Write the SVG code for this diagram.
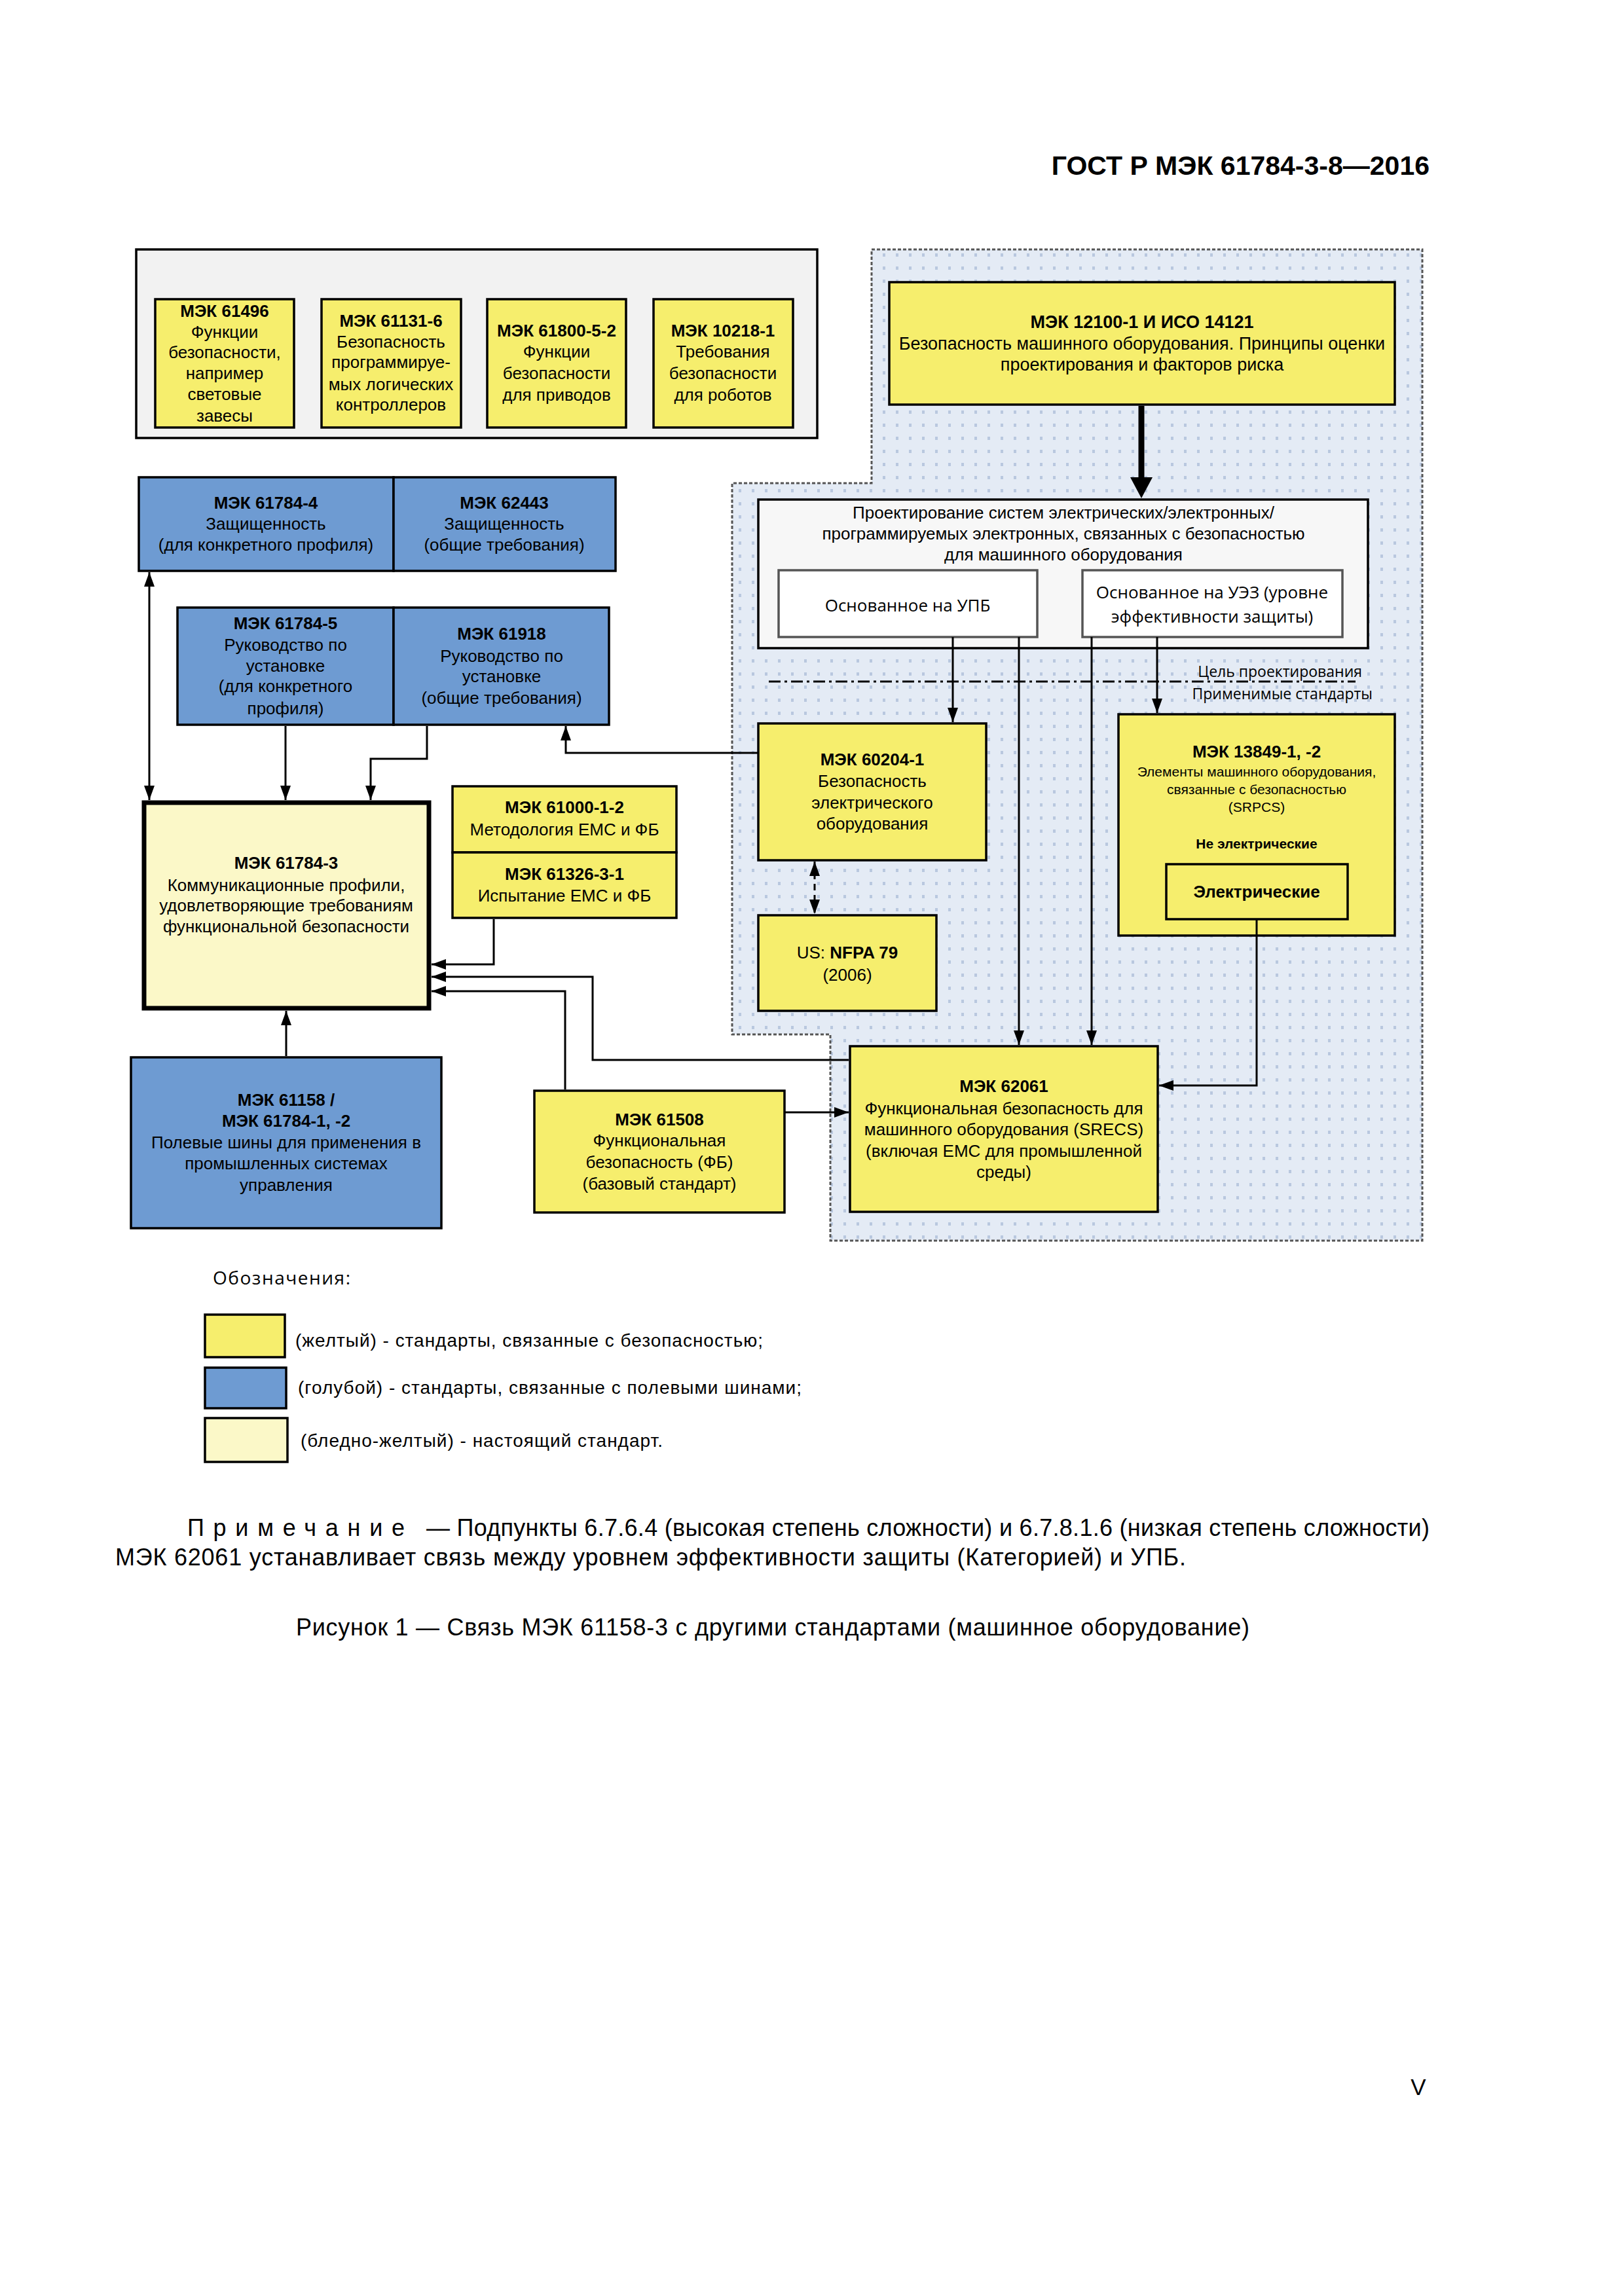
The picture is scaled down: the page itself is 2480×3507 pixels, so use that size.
<svg xmlns="http://www.w3.org/2000/svg" width="2480" height="3507" viewBox="0 0 2480 3507">
<style>
.t{font-family:"Liberation Sans",Arial,sans-serif;font-size:26px;text-anchor:middle;fill:#000}
.b{font-weight:bold}
.s{font-size:21px}
.o{font-family:"Open Sans","DejaVu Sans",sans-serif}
.l{text-anchor:start}
.e{text-anchor:end}
.y{fill:#f6ee6d;stroke:#000;stroke-width:3.5}
.bl{fill:#6e9bd2;stroke:#000;stroke-width:3.5}
.c{fill:none;stroke:#000;stroke-width:3}
</style>
<defs>
<pattern id="dots" width="20" height="20" patternUnits="userSpaceOnUse">
<rect width="20" height="20" fill="#e4ebf5"/>
<rect x="8" y="7" width="4" height="5" fill="#b9c8df"/>
</pattern>
<marker id="a" markerUnits="userSpaceOnUse" markerWidth="22" markerHeight="16" refX="22" refY="8" orient="auto-start-reverse">
<path d="M0,0 L22,8 L0,16 z" fill="#000"/>
</marker>
</defs>
<rect width="2480" height="3507" fill="#fff"/>

<text class="t b e" x="2183" y="267" style="font-size:41px">ГОСТ Р МЭК 61784-3-8—2016</text>

<g id="region">
<path d="M1331,381 H2172 V1895 H1268 V1580 H1118 V738 H1331 Z" fill="url(#dots)" stroke="#555" stroke-width="3" stroke-dasharray="5 3"/>
</g>

<g id="group-top">
<rect x="208" y="381" width="1040" height="288" fill="#f2f2f2" stroke="#000" stroke-width="3.5"/>
</g>
<g id="n61496">
<rect class="y" x="237" y="457" width="212" height="196"/>
<text class="t b" x="343" y="484">МЭК 61496</text>
<text class="t" x="343" y="516">Функции</text>
<text class="t" x="343" y="547">безопасности,</text>
<text class="t" x="343" y="579">например</text>
<text class="t" x="343" y="611">световые</text>
<text class="t" x="343" y="644">завесы</text>
</g>
<g id="n61131">
<rect class="y" x="491" y="457" width="213" height="196"/>
<text class="t b" x="597" y="499">МЭК 61131-6</text>
<text class="t" x="597" y="531">Безопасность</text>
<text class="t" x="597" y="562">программируе-</text>
<text class="t" x="597" y="596">мых логических</text>
<text class="t" x="597" y="627">контроллеров</text>
</g>
<g id="n61800">
<rect class="y" x="744" y="457" width="212" height="196"/>
<text class="t b" x="850" y="514">МЭК 61800-5-2</text>
<text class="t" x="850" y="546">Функции</text>
<text class="t" x="850" y="579">безопасности</text>
<text class="t" x="850" y="612">для приводов</text>
</g>
<g id="n10218">
<rect class="y" x="998" y="457" width="213" height="196"/>
<text class="t b" x="1104" y="514">МЭК 10218-1</text>
<text class="t" x="1104" y="546">Требования</text>
<text class="t" x="1104" y="579">безопасности</text>
<text class="t" x="1104" y="612">для роботов</text>
</g>

<g id="n12100">
<rect class="y" x="1358" y="431" width="772" height="187"/>
<text class="t b" x="1744" y="501" style="font-size:27px">МЭК 12100-1 И ИСО 14121</text>
<text class="t" x="1744" y="534" style="font-size:27px">Безопасность машинного оборудования. Принципы оценки</text>
<text class="t" x="1744" y="566" style="font-size:27px">проектирования и факторов риска</text>
</g>

<g id="design">
<rect x="1158" y="763" width="931" height="227" fill="#f7f7f7" stroke="#000" stroke-width="3.5"/>
<text class="t" x="1624" y="792">Проектирование систем электрических/электронных/</text>
<text class="t" x="1624" y="824">программируемых электронных, связанных с безопасностью</text>
<text class="t" x="1624" y="856">для машинного оборудования</text>
</g>
<g id="upb">
<rect x="1189" y="871" width="395" height="102" fill="#fff" stroke="#555" stroke-width="3.5"/>
<text class="t o" x="1386" y="934">Основанное на УПБ</text>
</g>
<g id="uez">
<rect x="1653" y="871" width="397" height="102" fill="#fff" stroke="#555" stroke-width="3.5"/>
<text class="t o" x="1851" y="914">Основанное на УЭЗ (уровне</text>
<text class="t o" x="1851" y="951">эффективности защиты)</text>
</g>
<g id="divider">
<line x1="1174" y1="1041" x2="2070" y2="1041" stroke="#000" stroke-width="3" stroke-dasharray="18 6 4 6"/>
<text class="t o e" x="2080" y="1034" style="font-size:23px">Цель проектирования</text>
<text class="t o e" x="2096" y="1068" style="font-size:23px">Применимые стандарты</text>
</g>

<g id="n61784-4">
<rect class="bl" x="212" y="729" width="389" height="143"/>
<text class="t b" x="406" y="777">МЭК 61784-4</text>
<text class="t" x="406" y="809">Защищенность</text>
<text class="t" x="406" y="841">(для конкретного профиля)</text>
</g>
<g id="n62443">
<rect class="bl" x="601" y="729" width="339" height="143"/>
<text class="t b" x="770" y="777">МЭК 62443</text>
<text class="t" x="770" y="809">Защищенность</text>
<text class="t" x="770" y="841">(общие требования)</text>
</g>
<g id="n61784-5">
<rect class="bl" x="271" y="928" width="330" height="179"/>
<text class="t b" x="436" y="961">МЭК 61784-5</text>
<text class="t" x="436" y="994">Руководство по</text>
<text class="t" x="436" y="1026">установке</text>
<text class="t" x="436" y="1057">(для конкретного</text>
<text class="t" x="436" y="1091">профиля)</text>
</g>
<g id="n61918">
<rect class="bl" x="601" y="928" width="329" height="179"/>
<text class="t b" x="766" y="977">МЭК 61918</text>
<text class="t" x="766" y="1011">Руководство по</text>
<text class="t" x="766" y="1042">установке</text>
<text class="t" x="766" y="1075">(общие требования)</text>
</g>

<g id="n61784-3">
<rect x="220" y="1226" width="435" height="314" fill="#fbf8c8" stroke="#000" stroke-width="7"/>
<text class="t b" x="437" y="1327">МЭК 61784-3</text>
<text class="t" x="437" y="1361">Коммуникационные профили,</text>
<text class="t" x="437" y="1392">удовлетворяющие требованиям</text>
<text class="t" x="437" y="1424">функциональной безопасности</text>
</g>
<g id="n61000">
<rect class="y" x="691" y="1201" width="342" height="101"/>
<text class="t b" x="862" y="1242">МЭК 61000-1-2</text>
<text class="t" x="862" y="1276">Методология ЕМС и ФБ</text>
</g>
<g id="n61326">
<rect class="y" x="691" y="1302" width="342" height="100"/>
<text class="t b" x="862" y="1344">МЭК 61326-3-1</text>
<text class="t" x="862" y="1377">Испытание ЕМС и ФБ</text>
</g>

<g id="n60204">
<rect class="y" x="1158" y="1105" width="348" height="209"/>
<text class="t b" x="1332" y="1169">МЭК 60204-1</text>
<text class="t" x="1332" y="1202">Безопасность</text>
<text class="t" x="1332" y="1235">электрического</text>
<text class="t" x="1332" y="1267">оборудования</text>
</g>
<g id="nNFPA">
<rect class="y" x="1158" y="1398" width="272" height="146"/>
<text class="t" x="1294" y="1464">US: <tspan class="b">NFPA 79</tspan></text>
<text class="t" x="1294" y="1498">(2006)</text>
</g>
<g id="n13849">
<rect class="y" x="1708" y="1091" width="422" height="338"/>
<text class="t b" x="1919" y="1157">МЭК 13849-1, -2</text>
<text class="t s" x="1919" y="1186">Элементы машинного оборудования,</text>
<text class="t s" x="1919" y="1213">связанные с безопасностью</text>
<text class="t s" x="1919" y="1240">(SRPCS)</text>
<text class="t s b" x="1919" y="1296">Не электрические</text>
</g>
<g id="nElec">
<rect class="y" x="1781" y="1320" width="277" height="84"/>
<text class="t b" x="1919" y="1371">Электрические</text>
</g>
<g id="n62061">
<rect class="y" x="1298" y="1598" width="470" height="253"/>
<text class="t b" x="1533" y="1668">МЭК 62061</text>
<text class="t" x="1533" y="1702">Функциональная безопасность для</text>
<text class="t" x="1533" y="1734">машинного оборудования (SRECS)</text>
<text class="t" x="1533" y="1767">(включая ЕМС для промышленной</text>
<text class="t" x="1533" y="1799">среды)</text>
</g>
<g id="n61508">
<rect class="y" x="816" y="1666" width="382" height="186"/>
<text class="t b" x="1007" y="1719">МЭК 61508</text>
<text class="t" x="1007" y="1751">Функциональная</text>
<text class="t" x="1007" y="1784">безопасность (ФБ)</text>
<text class="t" x="1007" y="1817">(базовый стандарт)</text>
</g>
<g id="n61158">
<rect class="bl" x="200" y="1615" width="474" height="261"/>
<text class="t b" x="437" y="1689">МЭК 61158 /</text>
<text class="t b" x="437" y="1721">МЭК 61784-1, -2</text>
<text class="t" x="437" y="1754">Полевые шины для применения в</text>
<text class="t" x="437" y="1786">промышленных системах</text>
<text class="t" x="437" y="1819">управления</text>
</g>

<g id="connectors">
<path class="c" d="M228,874 V1222" marker-start="url(#a)" marker-end="url(#a)"/>
<path class="c" d="M436,1109 V1222" marker-end="url(#a)"/>
<path class="c" d="M652,1109 V1159 H566 V1222" marker-end="url(#a)"/>
<path class="c" d="M1158,1150 H864 V1109" marker-end="url(#a)"/>
<path class="c" d="M754,1404 V1473 H659" marker-end="url(#a)"/>
<path class="c" d="M1296,1619 H905 V1492 H659" marker-end="url(#a)"/>
<path class="c" d="M863,1664 V1514 H659" marker-end="url(#a)"/>
<path class="c" d="M437,1613 V1544" marker-end="url(#a)"/>
<path class="c" d="M1198,1699 H1296" marker-end="url(#a)"/>
<path class="c" d="M1455,973 V1103" marker-end="url(#a)"/>
<path class="c" d="M1556,973 V1596" marker-end="url(#a)"/>
<path class="c" d="M1667,973 V1596" marker-end="url(#a)"/>
<path class="c" d="M1767,973 V1089" marker-end="url(#a)"/>
<path class="c" d="M1919,1404 V1658 H1770" marker-end="url(#a)"/>
<path class="c" d="M1244,1316 V1396" stroke-dasharray="10 7" marker-start="url(#a)" marker-end="url(#a)"/>
<path d="M1743,620 V732" fill="none" stroke="#000" stroke-width="9"/>
<path d="M1726,729 L1760,729 L1743,761 Z" fill="#000"/>
</g>

<g id="legend">
<text class="t o l" x="325" y="1962" style="font-size:28px" textLength="210">Обозначения:</text>
<rect x="313" y="2008" width="122" height="65" fill="#f6ee6d" stroke="#000" stroke-width="3.5"/>
<rect x="313" y="2089" width="124" height="62" fill="#6e9bd2" stroke="#000" stroke-width="3.5"/>
<rect x="313" y="2166" width="126" height="67" fill="#fbf8c8" stroke="#000" stroke-width="3.5"/>
<text class="t l" x="451" y="2057" style="font-size:28px" textLength="714">(желтый) - стандарты, связанные с безопасностью;</text>
<text class="t l" x="455" y="2129" style="font-size:28px" textLength="769">(голубой) - стандарты, связанные с полевыми шинами;</text>
<text class="t l" x="459" y="2210" style="font-size:28px" textLength="553">(бледно-желтый) - настоящий стандарт.</text>
</g>

<g id="notes">
<text class="t l" x="286" y="2346" style="font-size:36px" textLength="332">Примечание</text>
<text class="t l" x="651" y="2346" style="font-size:36px" textLength="1532">— Подпункты 6.7.6.4 (высокая степень сложности) и 6.7.8.1.6 (низкая степень сложности)</text>
<text class="t l" x="176" y="2391" style="font-size:36px" textLength="1635">МЭК 62061 устанавливает связь между уровнем эффективности защиты (Категорией) и УПБ.</text>
<text class="t l" x="452" y="2498" style="font-size:36px" textLength="1456">Рисунок 1 — Связь МЭК 61158-3 с другими стандартами (машинное оборудование)</text>
<text class="t" x="2166" y="3200" style="font-size:35px">V</text>
</g>
</svg>
